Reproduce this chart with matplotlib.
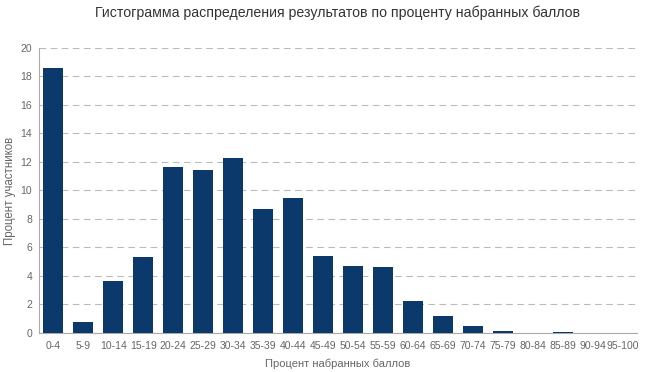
import matplotlib.pyplot as plt

plt.rcParams['font.family'] = ['Liberation Sans', 'DejaVu Sans']

categories = ["0-4", "5-9", "10-14", "15-19", "20-24", "25-29", "30-34", "35-39",
              "40-44", "45-49", "50-54", "55-59", "60-64", "65-69", "70-74",
              "75-79", "80-84", "85-89", "90-94", "95-100"]
percent = [18.6, 0.77, 3.65, 5.33, 11.65, 11.44, 12.28, 8.7, 9.47, 5.4,
           4.7, 4.63, 2.25, 1.19, 0.46, 0.14, 0.0, 0.07, 0.0, 0.0]
y_ticks = [0, 2, 4, 6, 8, 10, 12, 14, 16, 18, 20]

fig = plt.figure(figsize=(6.52, 3.72), dpi=100)
ax = fig.add_axes([0.06, 0.105, 0.917, 0.766])

x = list(range(len(categories)))
ax.bar(x, percent, width=0.667, color="#0b396b", zorder=3)

ax.set_xlim(-0.47, 19.47)
ax.set_ylim(0, 20)
ax.set_yticks(y_ticks)
ax.set_xticks(x)
ax.set_xticklabels(categories)
ax.tick_params(axis="both", length=0, colors="#666666", labelsize=7.5)
ax.tick_params(axis="x", pad=6)
ax.tick_params(axis="y", pad=5)

ax.grid(axis="y", color="#bbbbbb", linestyle=(0, (6, 4)), linewidth=0.8, zorder=0)
for side in ["top", "right"]:
    ax.spines[side].set_visible(False)
ax.spines["left"].set_color("#aaaaaa")
ax.spines["bottom"].set_color("#aaaaaa")

ax.set_xlabel("Процент набранных баллов", color="#666666", fontsize=8, labelpad=5)
ax.set_ylabel("Процент участников", color="#666666", fontsize=8.3, labelpad=3)
fig.text(0.518, 0.965, "Гистограмма распределения результатов по проценту набранных баллов",
         ha="center", va="center", fontsize=10.2, color="#333333")

fig.savefig("out.png", dpi=100)
